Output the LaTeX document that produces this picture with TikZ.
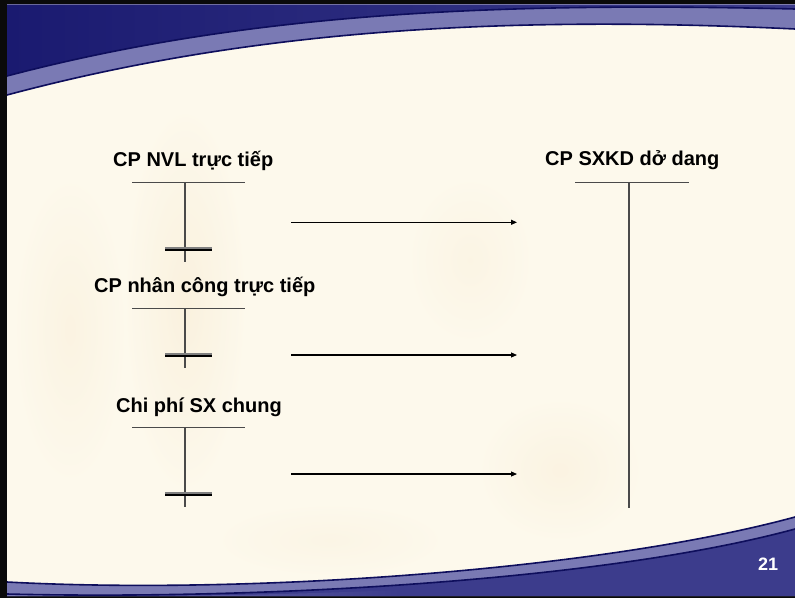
\documentclass[tikz,border=0pt]{standalone}
\usepackage{fontspec}
\setmainfont{Liberation Sans}
\usetikzlibrary{arrows.meta}

\definecolor{frameblack}{HTML}{0A0A0A}
\definecolor{cream}{HTML}{FDF9EC}
\definecolor{beige}{HTML}{F8EBD3}
\definecolor{navydark}{HTML}{1A1A70}
\definecolor{navymid}{HTML}{3C3C8C}
\definecolor{navyline}{HTML}{0E0E5C}
\definecolor{lavender}{HTML}{7A7AB4}
\definecolor{lavlight}{HTML}{A2A2D0}
\definecolor{tline}{HTML}{4A4A4A}

\tikzset{
  title/.style={font=\fontsize{20bp}{24bp}\selectfont\bfseries, inner sep=0pt, anchor=base west, text=black},
  tacc/.style={draw=tline, line width=1.3bp},
  barshadow/.style={draw=black!50, line width=2.2bp},
  barline/.style={draw=black, line width=2.4bp},
  flow/.style={draw=black, line width=1.1bp, -{Triangle[length=6bp,width=5bp]}},
  swooshline/.style={draw=navyline, line width=1.6bp},
  blob/.style={inner color=beige, outer color=cream}
}

\begin{document}
\begin{tikzpicture}[x=1bp, y=-1bp]
\useasboundingbox (0,0) rectangle (795,598);

% slide frame and paper background
\fill[frameblack] (0,0) rectangle (795,598);
\fill[cream] (7,4.5) rectangle (795,596);
\begin{scope}
  \clip (7,4.5) rectangle (795,596);
  \shade[blob, opacity=0.55] (185,300) ellipse (60 and 190);
  \shade[blob, opacity=0.4] (70,330) ellipse (55 and 150);
  \shade[blob, opacity=0.4] (560,470) ellipse (80 and 70);
  \shade[blob, opacity=0.3] (470,260) ellipse (60 and 80);
  \shade[blob, opacity=0.25] (330,540) ellipse (110 and 35);
\end{scope}

% top swoosh
\shade[left color=navydark, right color=navymid]
  (7,4.5) -- (795,4.5) -- (795,9) .. controls (500,2) and (250,12) .. (7,76) -- cycle;
\shade[left color=lavender, middle color=lavlight, right color=lavender]
  (7,76) .. controls (250,12) and (500,2) .. (795,9) -- (795,29)
  .. controls (500,15) and (250,30) .. (7,95) -- cycle;
\draw[swooshline] (7,76) .. controls (250,12) and (500,2) .. (795,9);
\draw[swooshline] (7,95) .. controls (250,30) and (500,15) .. (795,29);

% bottom swoosh
\shade[left color=lavender, middle color=lavlight, right color=lavender]
  (7,582) .. controls (250,595) and (600,570) .. (795,517) -- (795,596) -- (7,596) -- cycle;
\fill[navymid]
  (7,594) .. controls (250,600) and (600,582) .. (795,529) -- (795,596) -- (7,596) -- cycle;
\shade[left color=lavender, right color=navymid]
  (7,594) .. controls (150,597) and (250,596) .. (400,590) -- (400,596) -- (7,596) -- cycle;
\draw[swooshline] (7,582) .. controls (250,595) and (600,570) .. (795,517);
\draw[swooshline] (7,594) .. controls (250,600) and (600,582) .. (795,529);

% page number
\node[font=\fontsize{18bp}{22bp}\selectfont\bfseries, text=white, inner sep=0pt, anchor=base west] (pagenum) at (758,570) {21};

% account titles
\node[title] (nvl) at (113,167) {CP NVL trực tiếp};
\node[title] (nc)  at (94,292.5) {CP nhân công trực tiếp};
\node[title] (sxc) at (116,412.5) {Chi phí SX chung};
\node[title] (dd)  at (545,166) {CP SXKD dở dang};

% T-account for direct materials
\coordinate (t1l) at (132,182.5);
\coordinate (t1r) at (245,182.5);
\coordinate (t1top) at (185,182.5);
\coordinate (t1bot) at (185,261.5);
\coordinate (b1l) at (165,250);
\coordinate (b1r) at (211.5,250);
\coordinate (s1l) at (165,247.8);
\coordinate (s1r) at (211.5,247.8);
\draw[tacc] (t1l) -- (t1r);
\draw[tacc] (t1top) -- (t1bot);
\draw[barshadow] (s1l) -- (s1r);
\draw[barline] (b1l) -- (b1r);

% T-account for direct labour
\coordinate (t2l) at (132,308.3);
\coordinate (t2r) at (245,308.3);
\coordinate (t2top) at (185,308.3);
\coordinate (t2bot) at (185,368);
\coordinate (b2l) at (165,356);
\coordinate (b2r) at (211.5,356);
\coordinate (s2l) at (165,353.8);
\coordinate (s2r) at (211.5,353.8);
\draw[tacc] (t2l) -- (t2r);
\draw[tacc] (t2top) -- (t2bot);
\draw[barshadow] (s2l) -- (s2r);
\draw[barline] (b2l) -- (b2r);

% T-account for overheads
\coordinate (t3l) at (132,427.3);
\coordinate (t3r) at (245,427.3);
\coordinate (t3top) at (185,427.3);
\coordinate (t3bot) at (185,507.3);
\coordinate (b3l) at (165,495);
\coordinate (b3r) at (211.5,495);
\coordinate (s3l) at (165,492.8);
\coordinate (s3r) at (211.5,492.8);
\draw[tacc] (t3l) -- (t3r);
\draw[tacc] (t3top) -- (t3bot);
\draw[barshadow] (s3l) -- (s3r);
\draw[barline] (b3l) -- (b3r);

% T-account for work in progress
\coordinate (t4l) at (575,182.5);
\coordinate (t4r) at (689,182.5);
\coordinate (t4top) at (629,182.5);
\coordinate (t4bot) at (629,507.7);
\draw[tacc] (t4l) -- (t4r);
\draw[tacc] (t4top) -- (t4bot);

% transfers into work in progress
\coordinate (f1s) at (291,222.3);
\coordinate (f1e) at (517,222.3);
\coordinate (f2s) at (291,355);
\coordinate (f2e) at (517,355);
\coordinate (f3s) at (291,474);
\coordinate (f3e) at (517,474);
\draw[flow] (f1s) -- (f1e);
\draw[flow] (f2s) -- (f2e);
\draw[flow] (f3s) -- (f3e);
\end{tikzpicture}
\end{document}
